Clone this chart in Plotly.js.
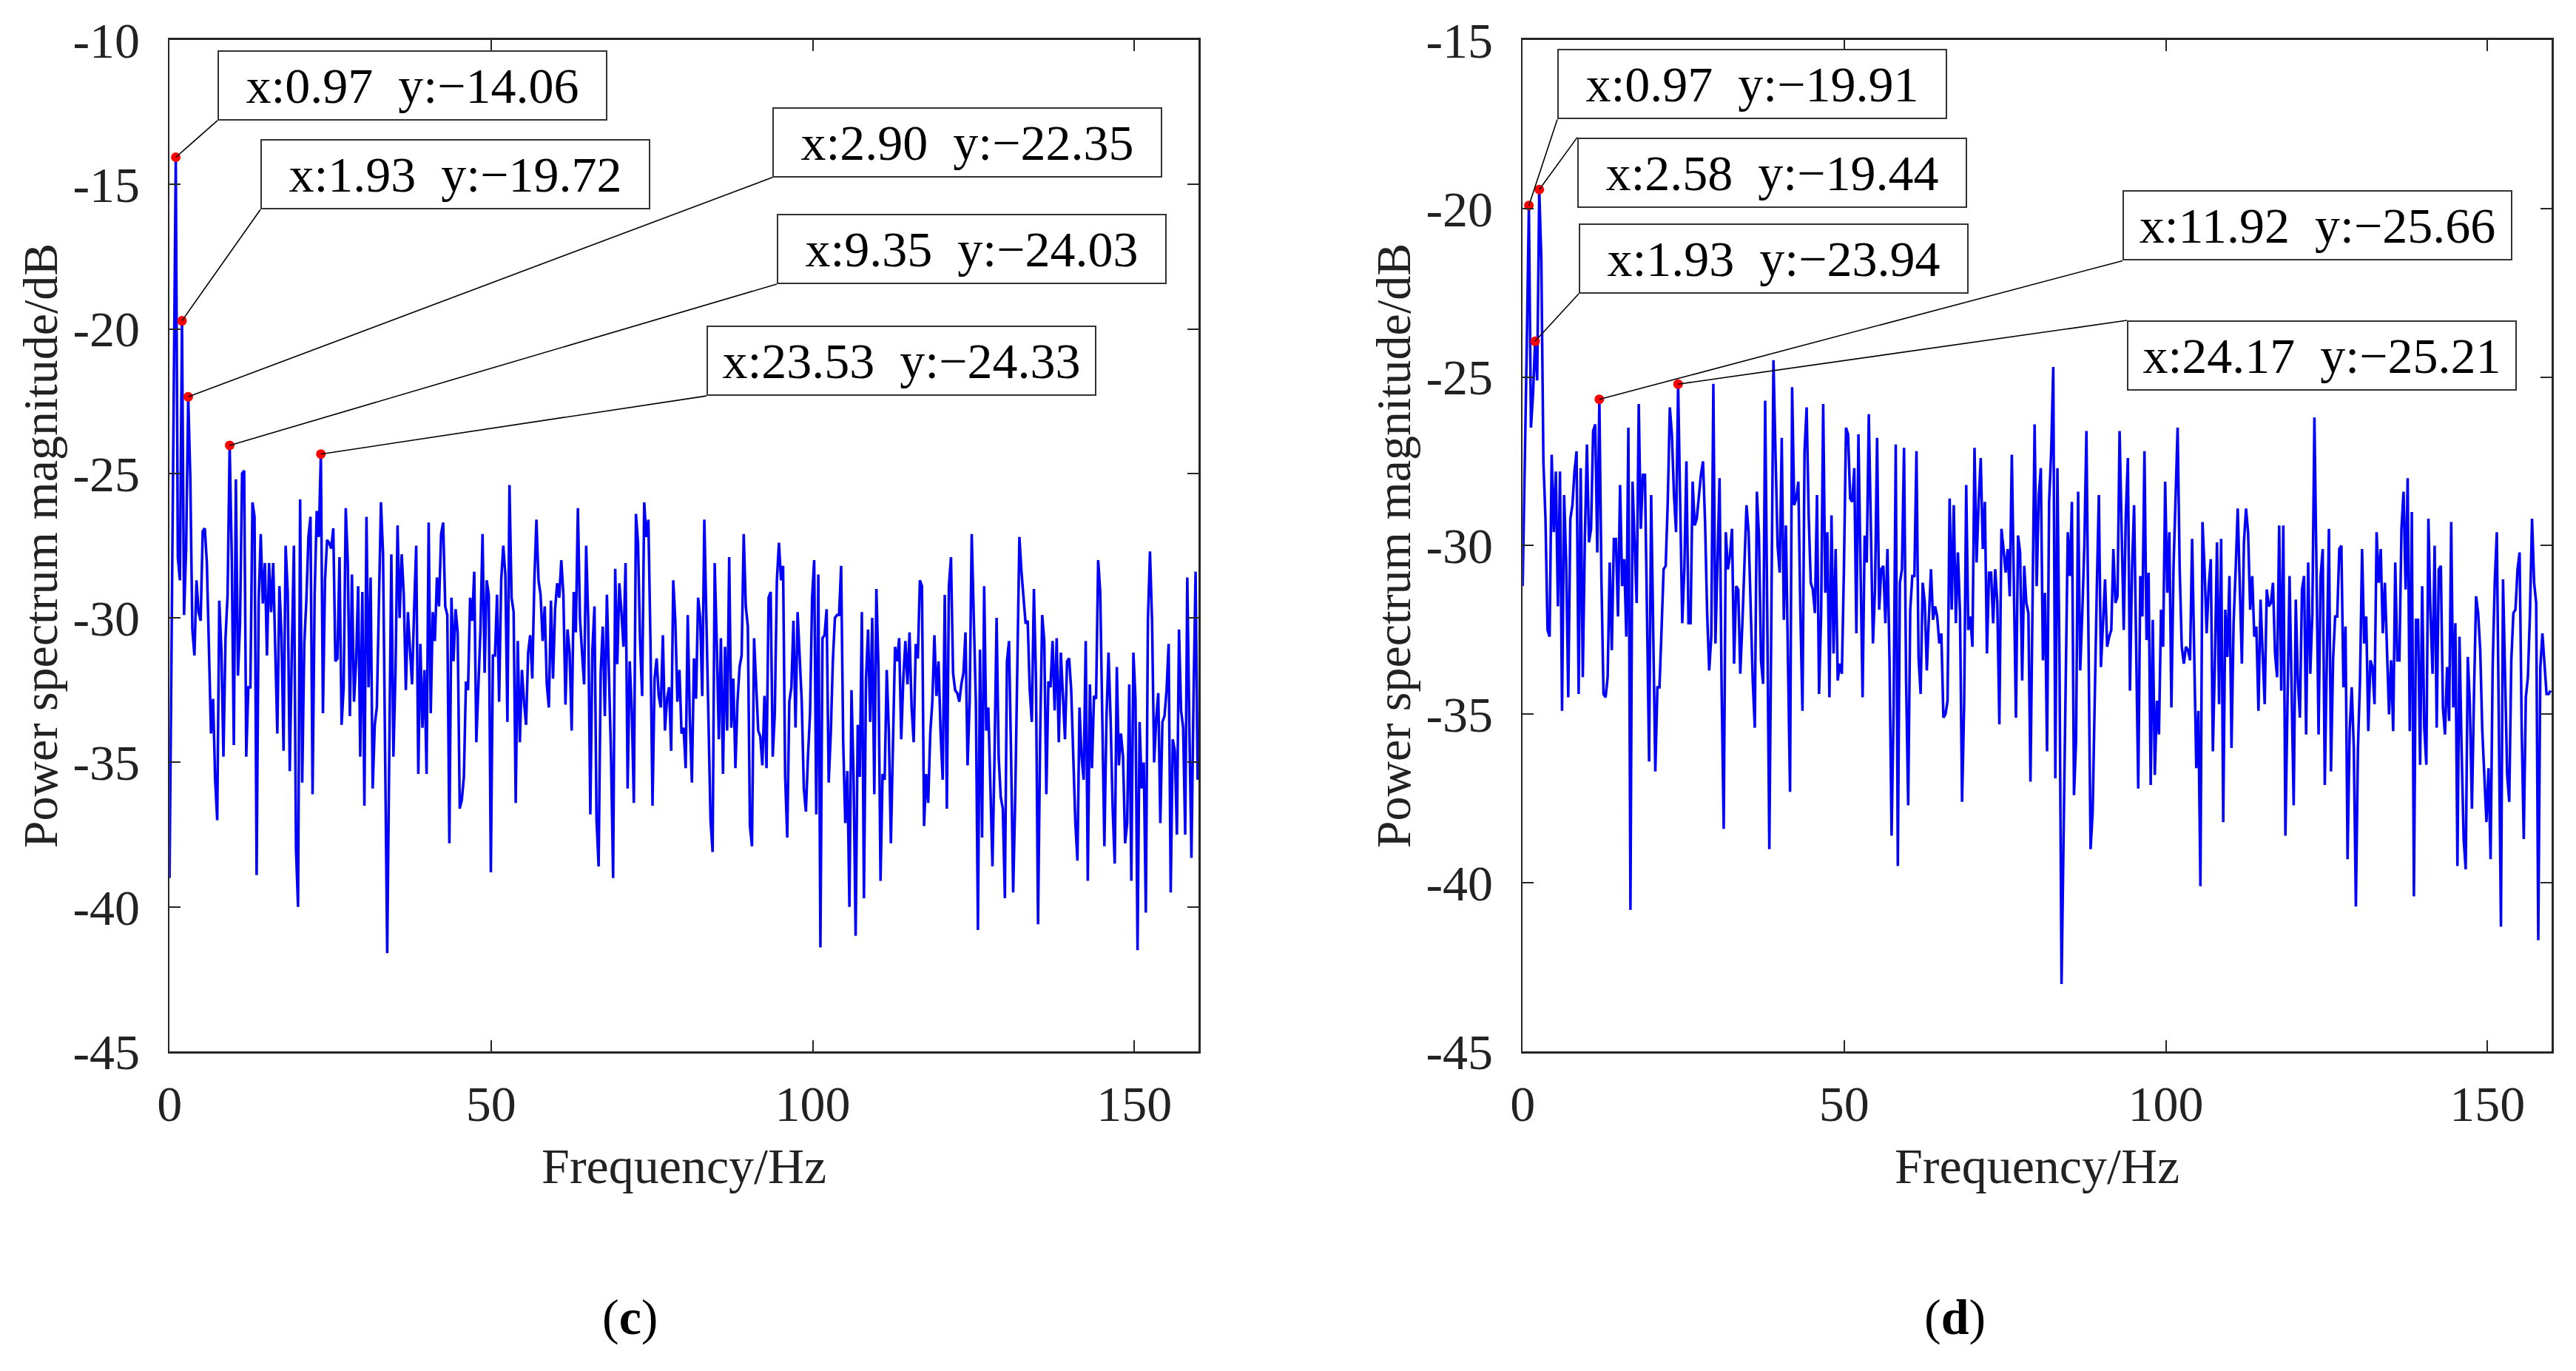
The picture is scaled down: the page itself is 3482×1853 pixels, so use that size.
<!DOCTYPE html>
<html><head><meta charset="utf-8">
<script src="https://cdn.plot.ly/plotly-3.0.1.min.js"></script>
<style>html,body{margin:0;padding:0;background:#fff;overflow:hidden}#chart{width:3482px;height:1853px}</style>
</head><body><div id="chart"></div>
<script>
// frequency resolution of the spectra (Hz per bin)
const binWidthHz = 0.32228;

// panel (c): power spectrum magnitude in dB, one value per bin
const powerC = [
-39.0,-30.7,-22.4,-14.06,-27.9,-28.7,-19.72,-29.9,-27.6,-22.35,
-25.1,-30.4,-31.3,-28.7,-29.8,-30.1,-27.0,-26.9,-28.1,-30.9,
-34.0,-32.8,-35.6,-37.0,-29.4,-31.1,-34.8,-30.7,-29.2,-24.03,
-27.8,-34.4,-25.2,-32.0,-30.2,-25.0,-24.9,-34.8,-32.4,-32.4,
-26.0,-26.5,-38.9,-29.4,-27.1,-29.5,-28.1,-31.3,-28.1,-29.8,
-28.1,-31.1,-34.0,-28.9,-30.6,-34.6,-27.5,-29.1,-35.3,-31.1,
-27.5,-38.0,-40.0,-25.9,-35.7,-30.9,-29.4,-27.2,-26.5,-36.1,
-29.2,-26.3,-27.2,-24.33,-33.3,-28.7,-27.3,-27.4,-27.6,-26.9,
-31.5,-31.4,-27.9,-33.7,-32.4,-26.2,-28.1,-33.4,-28.5,-32.9,
-31.5,-28.9,-34.8,-29.1,-36.5,-26.5,-32.4,-28.6,-35.9,-33.7,
-33.1,-29.5,-26.0,-27.8,-34.8,-41.6,-34.7,-27.8,-34.8,-31.9,
-26.8,-30.0,-27.8,-29.2,-32.5,-29.8,-31.1,-32.3,-29.7,-27.5,
-35.4,-30.9,-33.8,-31.8,-35.4,-26.7,-33.3,-29.8,-30.8,-28.6,
-29.6,-27.1,-26.7,-29.6,-29.9,-37.8,-29.3,-31.5,-29.7,-30.5,
-36.6,-36.3,-35.5,-32.2,-32.5,-29.3,-30.1,-28.4,-34.3,-32.1,
-30.4,-27.1,-31.9,-28.7,-29.2,-38.8,-31.3,-31.3,-29.2,-32.9,
-28.7,-27.5,-28.5,-33.6,-25.4,-29.3,-29.8,-36.4,-30.8,-34.3,
-31.8,-32.9,-33.7,-31.2,-30.6,-32.1,-28.7,-26.6,-28.7,-29.2,
-30.8,-29.6,-32.3,-33.1,-29.4,-32.1,-29.7,-28.8,-29.3,-28.0,
-29.2,-33.0,-30.4,-31.2,-33.9,-29.1,-30.5,-26.2,-30.0,-31.2,
-32.3,-27.5,-30.1,-36.8,-31.1,-29.6,-37.0,-38.6,-31.9,-30.3,
-33.4,-29.2,-31.9,-34.8,-39.0,-28.3,-31.6,-28.8,-29.8,-31.0,
-28.1,-35.9,-31.5,-33.2,-36.4,-26.4,-27.4,-30.8,-32.7,-26.0,
-27.2,-26.6,-30.8,-36.5,-32.1,-31.4,-32.7,-33.1,-30.6,-33.9,
-32.8,-32.4,-34.6,-28.7,-30.1,-32.9,-31.8,-34.0,-33.8,-35.2,
-29.9,-33.5,-35.7,-31.4,-32.8,-29.3,-30.0,-32.7,-26.6,-30.1,
-33.5,-37.0,-38.1,-28.1,-30.9,-34.2,-30.7,-35.4,-31.0,-33.9,
-27.9,-33.8,-32.1,-35.2,-32.9,-31.7,-31.3,-27.1,-29.6,-30.3,
-37.2,-37.9,-30.7,-32.2,-33.9,-34.1,-35.1,-32.7,-35.2,-29.3,
-29.1,-34.8,-33.3,-28.7,-27.4,-28.7,-28.2,-35.5,-37.6,-32.9,
-32.4,-30.1,-33.8,-29.8,-31.3,-32.9,-35.9,-36.7,-34.8,-33.3,
-29.3,-28.0,-36.8,-28.5,-41.4,-30.7,-30.6,-29.7,-35.7,-34.0,
-31.5,-30.0,-29.9,-29.9,-28.2,-34.3,-37.1,-35.3,-40.0,-32.5,
-35.5,-41.0,-33.7,-35.5,-29.8,-39.7,-32.1,-30.4,-33.6,-30.0,
-36.1,-29.0,-31.7,-39.1,-35.4,-35.6,-31.8,-33.9,-37.8,-34.8,
-31.0,-31.5,-30.7,-34.2,-32.1,-30.8,-32.3,-30.5,-33.1,-34.3,
-30.9,-31.4,-28.7,-28.9,-37.2,-35.4,-36.4,-34.0,-32.9,-30.6,
-32.7,-31.5,-34.0,-35.6,-29.2,-36.6,-28.9,-27.9,-31.9,-32.5,
-32.6,-32.9,-32.3,-31.9,-30.5,-35.1,-32.9,-27.1,-30.5,-32.9,
-40.8,-31.1,-37.6,-28.9,-33.9,-33.1,-35.8,-38.6,-34.8,-30.0,
-34.8,-36.2,-36.6,-39.7,-31.5,-30.8,-34.8,-39.5,-36.2,-31.2,
-27.2,-28.4,-29.2,-30.2,-30.1,-32.5,-33.6,-29.0,-32.1,-40.6,
-34.2,-29.9,-30.8,-36.1,-32.2,-32.4,-30.8,-33.2,-30.7,-34.3,
-31.2,-32.8,-34.2,-31.5,-31.4,-32.5,-34.8,-37.1,-38.4,-33.1,
-34.8,-35.6,-30.8,-39.1,-32.3,-35.2,-32.7,-32.8,-28.0,-29.1,
-33.5,-37.9,-33.5,-31.2,-33.5,-36.6,-38.5,-31.7,-35.1,-34.0,
-34.8,-37.8,-37.1,-32.3,-39.1,-31.2,-32.8,-41.5,-33.6,-35.9,
-35.0,-40.2,-30.1,-27.7,-30.1,-35.0,-33.5,-32.6,-37.1,-33.6,
-33.4,-32.5,-30.9,-39.5,-34.2,-34.6,-37.5,-30.4,-33.2,-33.8,
-37.5,-28.6,-33.8,-38.3,-32.8,-28.4,-35.6
];

// panel (d): power spectrum magnitude in dB, one value per bin
const powerD = [
-31.2,-28.0,-24.0,-19.91,-26.5,-25.5,-23.94,-25.1,-19.44,-21.5,
-27.5,-29.2,-32.5,-32.7,-27.3,-29.6,-27.8,-31.8,-27.8,-34.9,
-28.5,-30.5,-34.5,-29.2,-28.8,-27.8,-27.2,-34.4,-27.7,-33.9,
-29.8,-27.0,-29.9,-29.5,-26.6,-26.4,-30.2,-25.66,-31.0,-34.4,
-34.5,-33.9,-30.5,-33.1,-29.8,-29.8,-32.1,-28.2,-31.2,-30.4,
-32.7,-26.5,-40.8,-28.1,-30.0,-31.7,-25.8,-29.5,-27.9,-27.9,
-32.1,-36.4,-28.5,-32.3,-36.7,-34.2,-34.2,-32.5,-30.7,-30.6,
-28.7,-25.9,-26.7,-28.5,-29.6,-25.21,-29.3,-32.3,-30.7,-27.5,
-32.3,-32.3,-28.1,-29.4,-29.2,-28.5,-27.9,-27.5,-29.3,-32.0,
-33.7,-32.7,-25.2,-32.9,-30.7,-28.0,-34.3,-38.4,-29.6,-30.7,
-30.3,-29.5,-33.5,-31.2,-31.3,-33.8,-32.3,-30.7,-28.8,-29.6,
-32.0,-34.0,-35.4,-28.4,-29.7,-33.4,-34.1,-25.7,-32.0,-39.0,
-32.0,-24.5,-27.3,-30.0,-30.8,-26.8,-32.2,-29.4,-33.4,-37.3,
-25.3,-28.8,-28.6,-28.1,-32.0,-34.9,-27.2,-25.9,-29.1,-31.1,
-31.3,-32.0,-28.5,-34.4,-32.0,-25.8,-31.4,-29.6,-34.5,-29.1,
-33.2,-30.1,-34.0,-33.5,-33.8,-30.7,-26.5,-26.7,-28.6,-28.7,
-27.7,-32.6,-26.7,-30.7,-34.5,-29.7,-30.5,-26.1,-29.6,-32.9,
-31.3,-26.8,-31.9,-30.7,-30.6,-32.3,-30.1,-33.4,-38.6,-34.7,
-27.0,-39.5,-31.1,-30.7,-27.1,-34.0,-37.7,-31.9,-30.9,-30.9,
-27.2,-33.3,-34.4,-31.1,-31.7,-33.7,-32.1,-30.7,-32.2,-31.8,
-32.1,-32.9,-32.6,-35.1,-35.0,-34.6,-28.6,-31.9,-28.8,-32.3,
-30.2,-32.0,-37.6,-34.7,-28.2,-32.5,-32.1,-33.0,-27.1,-30.5,
-28.7,-27.4,-30.1,-28.7,-33.2,-30.8,-30.8,-32.3,-30.7,-31.7,
-35.3,-29.5,-30.1,-30.8,-30.1,-31.5,-27.3,-30.7,-35.1,-29.7,
-30.2,-34.0,-30.6,-31.7,-32.0,-37.0,-32.0,-26.4,-31.2,-28.5,
-27.7,-33.4,-31.4,-36.1,-28.7,-27.2,-24.7,-36.9,-27.7,-33.4,
-43.0,-38.7,-33.4,-29.6,-30.9,-28.7,-37.4,-35.8,-28.4,-33.7,
-32.0,-30.0,-26.6,-32.0,-39.0,-37.9,-34.0,-31.3,-28.5,-33.6,
-32.3,-31.0,-33.0,-32.7,-32.5,-30.1,-31.7,-31.5,-26.6,-29.3,
-32.5,-29.1,-27.4,-34.3,-30.7,-28.8,-33.4,-37.2,-30.9,-32.1,
-27.2,-32.8,-30.8,-37.1,-32.2,-36.8,-34.6,-35.6,-31.9,-33.0,
-28.1,-31.4,-29.6,-34.8,-30.7,-28.5,-26.5,-30.7,-33.0,-33.5,
-33.0,-33.1,-33.4,-29.8,-33.4,-36.6,-34.9,-40.1,-29.3,-30.7,
-32.6,-31.2,-30.4,-36.1,-33.4,-29.9,-34.7,-29.8,-38.2,-31.9,
-33.3,-30.9,-36.0,-32.3,-30.7,-28.9,-31.2,-33.5,-29.9,-28.9,
-29.6,-31.9,-30.9,-32.7,-32.4,-34.9,-31.6,-33.4,-34.7,-31.3,
-31.8,-31.7,-31.1,-33.2,-33.9,-29.4,-34.3,-29.4,-38.6,-34.7,
-30.9,-34.3,-37.7,-31.6,-34.0,-35.1,-31.3,-30.9,-35.6,-30.5,
-33.8,-32.0,-26.2,-30.7,-35.6,-30.9,-30.1,-37.1,-33.4,-29.5,
-36.7,-33.4,-32.1,-32.1,-30.1,-30.0,-34.2,-32.4,-39.3,-35.5,
-34.2,-36.0,-40.7,-36.0,-34.0,-30.1,-32.9,-32.1,-35.5,-33.4,
-33.6,-34.7,-29.6,-31.1,-30.1,-32.6,-31.1,-33.4,-35.0,-33.4,
-35.5,-30.5,-33.4,-33.4,-29.5,-28.4,-31.3,-28.0,-35.5,-29.0,
-40.4,-32.2,-32.2,-36.5,-31.2,-35.4,-36.5,-29.2,-32.0,-33.8,
-30.0,-35.4,-30.7,-30.6,-34.8,-35.6,-33.6,-35.2,-29.3,-34.8,
-32.3,-39.5,-32.7,-36.0,-38.7,-39.6,-33.3,-34.7,-37.8,-34.4,
-31.5,-32.0,-33.1,-35.5,-37.1,-38.2,-36.6,-39.3,-33.6,-31.1,
-29.6,-34.7,-41.3,-31.0,-34.0,-36.8,-37.6,-33.4,-32.0,-31.9,
-30.7,-30.2,-35.4,-38.7,-34.5,-33.9,-32.0,-29.2,-31.1,-31.7,
-41.7,-33.6,-32.6,-33.6,-34.4,-34.4,-34.3
];

// marked peaks (data tips)
const peaksC_f  = [0.97, 1.93, 2.90, 9.35, 23.53];
const peaksC_db = [-14.06, -19.72, -22.35, -24.03, -24.33];
const peaksD_f  = [0.97, 2.58, 1.93, 11.92, 24.17];
const peaksD_db = [-19.91, -19.44, -23.94, -25.66, -25.21];

// axes ticks and texts
const xTickVals = [0, 50, 100, 150];
const xTickText = ['0', '50', '100', '150'];
const yTickValsC = [-45, -40, -35, -30, -25, -20, -15, -10];
const yTickTextC = ['-45', '-40', '-35', '-30', '-25', '-20', '-15', '-10'];
const yTickValsD = [-45, -40, -35, -30, -25, -20, -15];
const yTickTextD = ['-45', '-40', '-35', '-30', '-25', '-20', '-15'];
const xTitleText = 'Frequency/Hz';
const yTitleText = 'Power spectrum magnitude/dB';
const panelLetters = ['c', 'd'];

// ---------- presentation ----------
const FONT = "'Liberation Serif', 'Times New Roman', serif";
const FS = 68;
const freqC = powerC.map((_, i) => i * binWidthHz);
const freqD = powerD.map((_, i) => i * binWidthHz);

// box corner placement of each data tip, [tailX, tailY, anchor] in axis units
const tipPlaceC = [[7.45, -12.79, 'bottom'], [14.13, -15.87, 'bottom'], [93.72, -14.76, 'bottom'], [94.41, -18.45, 'bottom'], [83.48, -22.32, 'bottom']];
const tipPlaceD = [[5.38, -17.36, 'bottom'], [8.49, -17.89, 'top'], [8.72, -22.53, 'bottom'], [93.27, -21.55, 'bottom'], [93.96, -23.32, 'top']];

function fmt(v) { const s = v.toFixed(2); return s.replace('-', '\u2212'); }
function tips(fs, dbs, place, xr, yr) {
  return fs.map((f, k) => {
    const txt = 'x:' + fmt(f) + '  y:' + fmt(dbs[k]);
    const w = txt.length > 17 ? 540 : 515;
    return {
      x: f, y: dbs[k], xref: xr, yref: yr, axref: xr, ayref: yr,
      ax: place[k][0], ay: place[k][1], xanchor: 'left', yanchor: place[k][2],
      showarrow: true, arrowhead: 0, arrowwidth: 1.6, arrowcolor: '#000',
      text: txt, font: {family: FONT, size: FS, color: '#000'},
      bgcolor: '#fff', bordercolor: '#333', borderwidth: 2, borderpad: 4,
      width: w, height: 83, align: 'center', valign: 'middle'
    };
  });
}

const lineStyle = {color: '#0000ff', width: 3.5};
const markStyle = {color: '#ff0000', size: 13};
const traces = [
  {x: freqC, y: powerC, type: 'scatter', mode: 'lines', line: lineStyle, xaxis: 'x', yaxis: 'y', hoverinfo: 'skip'},
  {x: peaksC_f, y: peaksC_db, type: 'scatter', mode: 'markers', marker: markStyle, xaxis: 'x', yaxis: 'y'},
  {x: freqD, y: powerD, type: 'scatter', mode: 'lines', line: lineStyle, xaxis: 'x2', yaxis: 'y2', hoverinfo: 'skip'},
  {x: peaksD_f, y: peaksD_db, type: 'scatter', mode: 'markers', marker: markStyle, xaxis: 'x2', yaxis: 'y2'}
];

function xAxis(domain, anchor) {
  return {domain: domain, anchor: anchor, range: [0, 160], tickmode: 'array', tickvals: xTickVals, ticktext: xTickText,
    ticks: 'inside', ticklen: 15, tickwidth: 2, tickcolor: '#262626', showline: true, linecolor: '#262626', linewidth: 2.5,
    mirror: 'ticks', showgrid: false, zeroline: false, ticklabelstandoff: 10,
    tickfont: {family: FONT, size: FS, color: '#222'},
    title: {text: xTitleText, font: {family: FONT, size: FS, color: '#222'}, standoff: 22}};
}
function yAxis(domain, anchor, rng, vals, txt) {
  return {domain: domain, anchor: anchor, range: rng, tickmode: 'array', tickvals: vals, ticktext: txt,
    ticks: 'inside', ticklen: 15, tickwidth: 2, tickcolor: '#262626', showline: true, linecolor: '#262626', linewidth: 2.5,
    mirror: 'ticks', showgrid: false, zeroline: false, ticklabelstandoff: 24,
    tickfont: {family: FONT, size: FS, color: '#222'},
    title: {text: yTitleText, font: {family: FONT, size: 66, color: '#222'}, standoff: 0}};
}

const yDom = [0.2331, 0.9709];
const layout = {
  width: 3482, height: 1853, margin: {l: 0, r: 0, t: 0, b: 0},
  paper_bgcolor: '#fff', plot_bgcolor: '#fff', showlegend: false,
  xaxis: xAxis([0.06582, 0.46530], 'y'),
  yaxis: yAxis(yDom, 'x', [-45, -10], yTickValsC, yTickTextC),
  xaxis2: xAxis([0.59110, 0.99055], 'y2'),
  yaxis2: yAxis(yDom, 'x2', [-45, -15], yTickValsD, yTickTextD),
  annotations: [].concat(
    tips(peaksC_f, peaksC_db, tipPlaceC, 'x', 'y'),
    tips(peaksD_f, peaksD_db, tipPlaceD, 'x2', 'y2'),
    [
      {xref: 'paper', yref: 'paper', x: 852 / 3482, y: (1853 - 1780) / 1853, xanchor: 'center', yanchor: 'middle', showarrow: false,
       text: '(<b>' + panelLetters[0] + '</b>)', font: {family: FONT, size: FS, color: '#000'}},
      {xref: 'paper', yref: 'paper', x: 2642 / 3482, y: (1853 - 1780) / 1853, xanchor: 'center', yanchor: 'middle', showarrow: false,
       text: '(<b>' + panelLetters[1] + '</b>)', font: {family: FONT, size: FS, color: '#000'}}
    ])
};

Plotly.newPlot('chart', traces, layout, {displayModeBar: false, staticPlot: true});
</script>
</body></html>
